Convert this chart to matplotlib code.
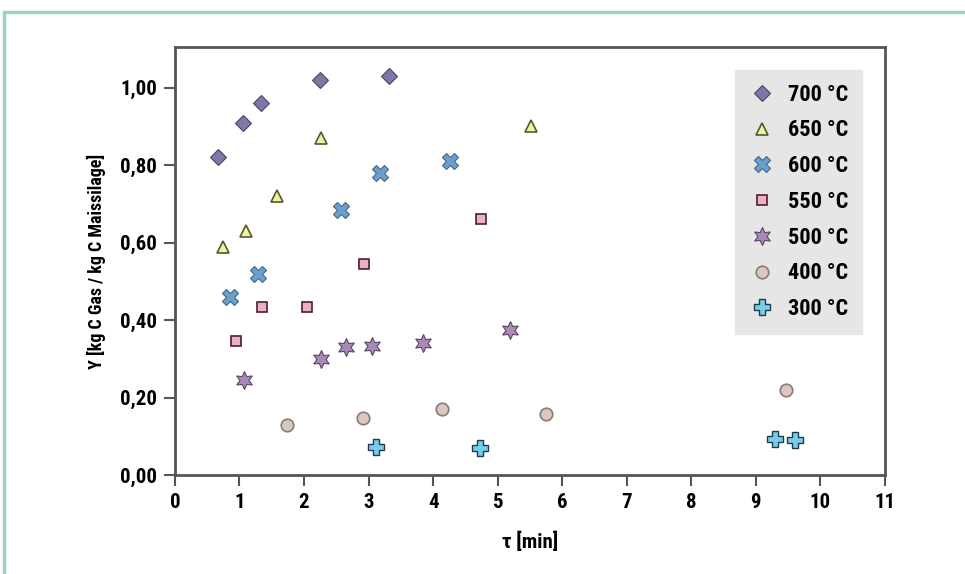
import matplotlib.pyplot as plt
from matplotlib.patches import Rectangle
from matplotlib.ticker import FuncFormatter
from matplotlib import font_manager

# data
t700 = [0.67, 1.05, 1.33, 2.25, 3.32]
y700 = [0.82, 0.91, 0.96, 1.02, 1.03]
t650 = [0.74, 1.10, 1.58, 2.26, 5.52]
y650 = [0.59, 0.63, 0.72, 0.87, 0.90]
t600 = [0.85, 1.29, 2.57, 3.18, 4.26]
y600 = [0.46, 0.52, 0.685, 0.78, 0.81]
t550 = [0.95, 1.35, 2.05, 2.93, 4.74]
y550 = [0.345, 0.435, 0.435, 0.545, 0.66]
t500 = [1.07, 2.26, 2.65, 3.05, 3.84, 5.19]
y500 = [0.245, 0.30, 0.33, 0.333, 0.34, 0.375]
t400 = [1.74, 2.91, 4.14, 5.75, 9.47]
y400 = [0.13, 0.147, 0.17, 0.158, 0.22]
t300 = [3.12, 4.73, 9.29, 9.61]
y300 = [0.072, 0.07, 0.093, 0.09]

labels = ['700 °C', '650 °C', '600 °C', '550 °C', '500 °C', '400 °C', '300 °C']

# condensed bold font if one is around
names = {f.name for f in font_manager.fontManager.ttflist}
fam = 'DejaVu Sans'
for cand in ['Liberation Sans Narrow', 'DejaVu Sans Condensed', 'Roboto Condensed', 'Open Sans Condensed']:
    if cand in names:
        fam = cand
        break
plt.rcParams['font.family'] = [fam, 'DejaVu Sans']
plt.rcParams['font.weight'] = 'bold'
plt.rcParams['axes.labelweight'] = 'bold'

fig = plt.figure(figsize=(9.65, 5.74), dpi=100)
ax = fig.add_axes([0.1813, 0.1725, 0.7357, 0.7455])

# outer frame
fig.patches.append(Rectangle((0.004, -0.05), 1.1, 1.029, transform=fig.transFigure,
                             fill=False, edgecolor='#9fd0c6', linewidth=2.5))

ax.plot(t700, y700, 'D', ms=8, mfc='#7e78a8', mec='#4a4468', mew=0.8, ls='none', label=labels[0])
ax.plot(t650, y650, '^', ms=9, mfc='#eef2a8', mec='#55582a', mew=1.2, ls='none', label=labels[1])
ax.plot(t600, y600, 'X', ms=11, mfc='#6d9fcc', mec='#3e6688', mew=0.8, ls='none', label=labels[2])
ax.plot(t550, y550, 's', ms=7, mfc='#eeb0be', mec='#4a2030', mew=1.2, ls='none', label=labels[3])
ax.plot(t500, y500, marker=(6, 1, 0), ms=13, mfc='#a98ab4', mec='#5a4464', mew=0.8, ls='none', label=labels[4])
ax.plot(t400, y400, 'o', ms=9, mfc='#dcc6c0', mec='#8a7a76', mew=1.2, ls='none', label=labels[5])
ax.plot(t300, y300, 'P', ms=11, mfc='#78cdea', mec='#1c3c4c', mew=1.0, ls='none', label=labels[6])

ax.set_xlim(0, 11)
ax.set_ylim(0, 1.105)
ax.set_xticks(range(0, 12))
ax.set_yticks([0, 0.2, 0.4, 0.6, 0.8, 1.0])
ax.yaxis.set_major_formatter(FuncFormatter(lambda v, p: f'{v:.2f}'.replace('.', ',')))

for s in ax.spines.values():
    s.set_color('#555555')
    s.set_linewidth(2)
ax.tick_params(direction='out', length=8, width=1.5, color='#555555', labelsize=15, pad=5)

ax.set_xlabel('τ [min]', fontsize=15, labelpad=14)
ax.set_ylabel('Y [kg C Gas / kg C Maissilage]', fontsize=13, labelpad=10)

ax.legend(loc='upper right', bbox_to_anchor=(0.968, 0.946), borderaxespad=0, fontsize=16,
          frameon=True, facecolor='#e6e6e6', edgecolor='#e6e6e6', framealpha=1, fancybox=False,
          handletextpad=0.6, labelspacing=0.62, borderpad=0.6, handlelength=1.2)

fig.savefig('out.png', dpi=100)
